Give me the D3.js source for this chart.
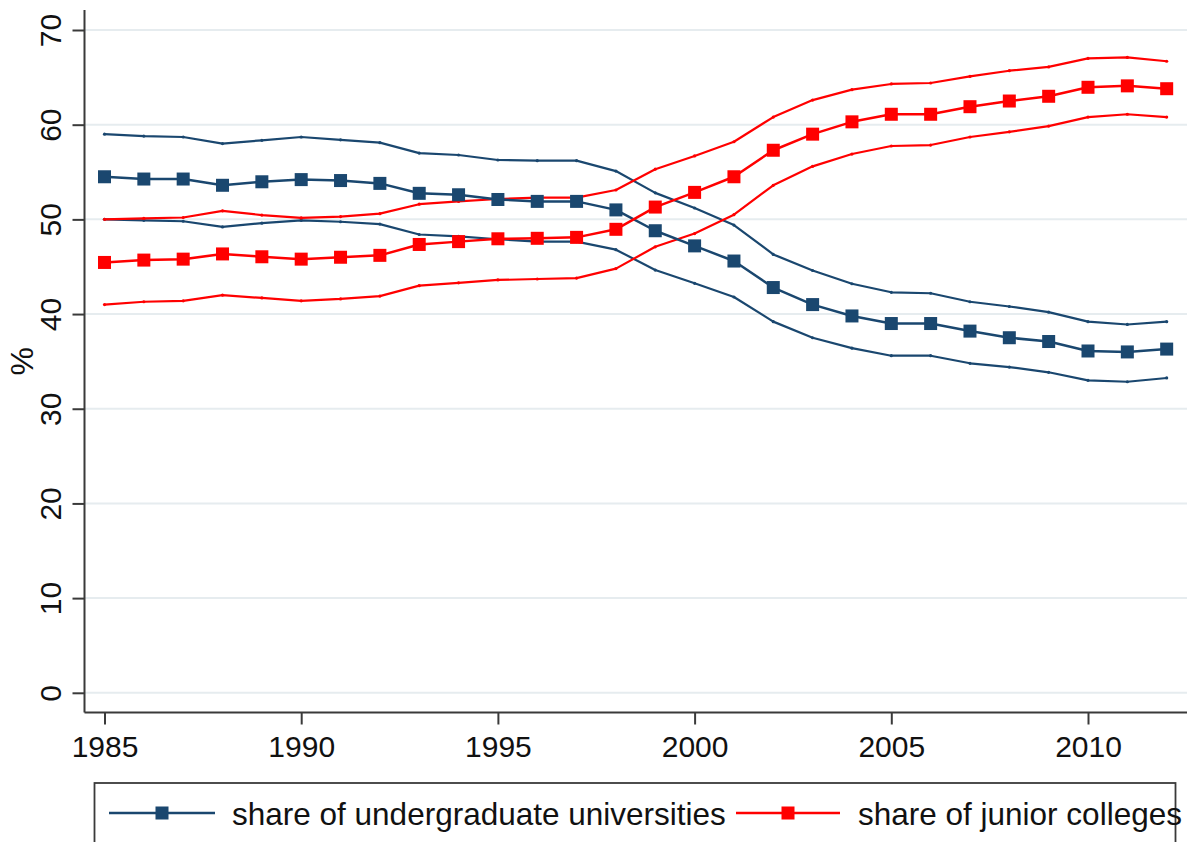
<!DOCTYPE html>
<html>
<head>
<meta charset="utf-8">
<script src="https://cdn.jsdelivr.net/npm/d3@7"></script>
<style>
  html, body { margin: 0; padding: 0; background: #fff; }
  svg { display: block; font-family: "Liberation Sans", Arial, Helvetica, sans-serif; }
</style>
</head>
<body>
<svg id="chart" width="1187" height="842"></svg>
<script>
// Shares of enrolment by institution type, with confidence bands (%)
const years = [1985,1986,1987,1988,1989,1990,1991,1992,1993,1994,1995,1996,1997,1998,
               1999,2000,2001,2002,2003,2004,2005,2006,2007,2008,2009,2010,2011,2012];

const undergradMean  = [54.5,54.26,54.26,53.6,53.97,54.2,54.1,53.8,52.75,52.6,52.1,51.9,51.9,51.0,
                        48.8,47.2,45.6,42.8,41.0,39.8,39.0,39.0,38.2,37.5,37.1,36.1,36.0,36.3];
const undergradUpper = [59.0,58.8,58.7,58.0,58.35,58.7,58.4,58.1,57.0,56.8,56.27,56.2,56.2,55.1,
                        52.8,51.2,49.4,46.3,44.6,43.2,42.3,42.2,41.3,40.8,40.2,39.2,38.9,39.2];
const undergradLower = [50.0,49.9,49.8,49.2,49.6,49.9,49.75,49.5,48.4,48.2,47.9,47.65,47.65,46.8,
                        44.65,43.25,41.8,39.2,37.5,36.4,35.6,35.6,34.8,34.4,33.85,33.0,32.85,33.25];

const juniorMean  = [45.45,45.7,45.8,46.35,46.05,45.8,46.0,46.2,47.35,47.65,47.95,48.0,48.1,48.95,
                     51.3,52.85,54.5,57.3,59.0,60.3,61.1,61.1,61.9,62.5,63.0,63.95,64.1,63.8];
const juniorUpper = [50.0,50.1,50.2,50.9,50.45,50.15,50.3,50.6,51.6,51.9,52.15,52.3,52.3,53.1,
                     55.3,56.7,58.2,60.8,62.6,63.7,64.3,64.4,65.1,65.7,66.1,67.0,67.1,66.7];
const juniorLower = [41.0,41.3,41.4,42.0,41.7,41.4,41.6,41.9,43.0,43.3,43.6,43.7,43.8,44.8,
                     47.1,48.5,50.5,53.6,55.6,56.9,57.75,57.85,58.7,59.25,59.85,60.8,61.1,60.8];

const xTicks = [1985,1990,1995,2000,2005,2010];
const yTicks = [0,10,20,30,40,50,60,70];
const yTitle = "%";
const legendLabels = ["share of undergraduate universities", "share of junior colleges"];

const NAVY = "#1a476f";
const RED = "#ff0000";
const AXIS = "#3a3a3a";

const svg = d3.select("#chart");

const x = d3.scaleLinear().domain([1985, 2010]).range([104.5, 1088]);
const y = d3.scaleLinear().domain([0, 70]).range([692.8, 30]);

const plotLeft = 84.5, plotRight = 1187, plotTop = 10, plotBottom = 712.5;

// horizontal grid
svg.append("g")
  .selectAll("line")
  .data(yTicks)
  .join("line")
  .attr("x1", plotLeft).attr("x2", plotRight)
  .attr("y1", d => y(d)).attr("y2", d => y(d))
  .attr("stroke", "#e6ecef")
  .attr("stroke-width", 2);

// y axis
const yAxis = svg.append("g")
  .attr("transform", `translate(${plotLeft},0)`)
  .call(d3.axisLeft(y).tickValues(yTicks).tickSize(12).tickPadding(0).tickFormat(d3.format("d")));
yAxis.select(".domain").remove();
yAxis.selectAll(".tick line").attr("stroke", AXIS).attr("stroke-width", 2);
yAxis.selectAll(".tick text")
  .attr("x", null).attr("dy", null)
  .attr("text-anchor", "middle")
  .attr("transform", "translate(-24,0) rotate(-90)")
  .attr("fill", "#111")
  .style("font-size", "30px");
svg.append("line")
  .attr("x1", plotLeft).attr("x2", plotLeft)
  .attr("y1", plotTop).attr("y2", plotBottom)
  .attr("stroke", AXIS).attr("stroke-width", 2);

// x axis
const xAxis = svg.append("g")
  .attr("transform", `translate(0,${plotBottom})`)
  .call(d3.axisBottom(x).tickValues(xTicks).tickSize(12).tickPadding(10).tickFormat(d3.format("d")));
xAxis.select(".domain").remove();
xAxis.selectAll(".tick line").attr("stroke", AXIS).attr("stroke-width", 2);
xAxis.selectAll(".tick text")
  .attr("dy", "0.76em")
  .attr("fill", "#111")
  .style("font-size", "30px");
svg.append("line")
  .attr("x1", plotLeft).attr("x2", plotRight)
  .attr("y1", plotBottom).attr("y2", plotBottom)
  .attr("stroke", AXIS).attr("stroke-width", 2);

// y title
svg.append("text")
  .attr("transform", `translate(33,${(y(0) + y(70)) / 2}) rotate(-90)`)
  .attr("text-anchor", "middle")
  .attr("fill", "#111")
  .style("font-size", "32px")
  .text(yTitle);

const line = d3.line()
  .x((d, i) => x(years[i]))
  .y(d => y(d));

// confidence band lines
const bands = [
  { v: undergradUpper, c: NAVY },
  { v: undergradLower, c: NAVY },
  { v: juniorUpper, c: RED },
  { v: juniorLower, c: RED }
];
bands.forEach(b => {
  svg.append("path")
    .datum(b.v)
    .attr("d", line)
    .attr("fill", "none")
    .attr("stroke", b.c)
    .attr("stroke-width", 2.2)
    .attr("stroke-linejoin", "round");
  svg.append("g").selectAll("circle")
    .data(b.v)
    .join("circle")
    .attr("cx", (d, i) => x(years[i]))
    .attr("cy", d => y(d))
    .attr("r", 1.6)
    .attr("fill", b.c);
});

// mean series with square markers
const series = [
  { v: undergradMean, c: NAVY },
  { v: juniorMean, c: RED }
];
const MS = 13;
series.forEach(s => {
  svg.append("path")
    .datum(s.v)
    .attr("d", line)
    .attr("fill", "none")
    .attr("stroke", s.c)
    .attr("stroke-width", 2.5)
    .attr("stroke-linejoin", "round");
  svg.append("g").selectAll("rect")
    .data(s.v)
    .join("rect")
    .attr("x", (d, i) => x(years[i]) - MS / 2)
    .attr("y", d => y(d) - MS / 2)
    .attr("width", MS).attr("height", MS)
    .attr("fill", s.c);
});

// legend
const legend = svg.append("g");
legend.append("rect")
  .attr("x", 94.5).attr("y", 783)
  .attr("width", 1081).attr("height", 80)
  .attr("fill", "#fff")
  .attr("stroke", AXIS).attr("stroke-width", 1.8);

const legendItems = [
  { label: legendLabels[0], c: NAVY, x0: 109, x1: 215, tx: 232 },
  { label: legendLabels[1], c: RED, x0: 736, x1: 840, tx: 858 }
];
legendItems.forEach(it => {
  const ly = 813;
  legend.append("line")
    .attr("x1", it.x0).attr("x2", it.x1)
    .attr("y1", ly).attr("y2", ly)
    .attr("stroke", it.c).attr("stroke-width", 2.5);
  legend.append("rect")
    .attr("x", (it.x0 + it.x1) / 2 - MS / 2).attr("y", ly - MS / 2)
    .attr("width", MS).attr("height", MS)
    .attr("fill", it.c);
  legend.append("text")
    .attr("x", it.tx).attr("y", 825)
    .attr("fill", "#111")
    .style("font-size", "31.5px")
    .text(it.label);
});
</script>
</body>
</html>
